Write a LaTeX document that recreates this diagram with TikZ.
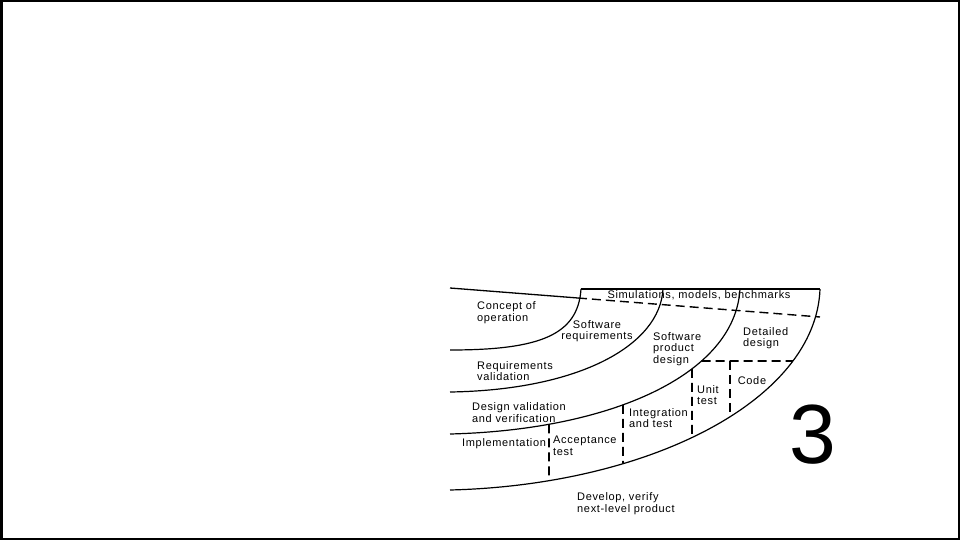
\documentclass[tikz,border=0pt]{standalone}
\usepackage{fontspec}
\setmainfont{Liberation Sans}
\newfontfamily\spiralfont[LetterSpace=6]{Liberation Sans}
\usetikzlibrary{intersections}
\tikzset{
  arcline/.style={line width=1.2pt},
  phasedash/.style={line width=1.6pt, dash pattern=on 9pt off 5pt},
  phase/.style={font=\spiralfont\fontsize{11}{11.5}\selectfont, align=left,
                inner sep=0pt},
}

\begin{document}
\begin{tikzpicture}[x=1pt, y=-1pt]
\useasboundingbox (0,0) rectangle (960,540);
\draw[line width=2.5pt] (1.25,1.25) rectangle (958.75,538.75);
% quadrant arcs, innermost first
\coordinate (topA) at (581,289);
\coordinate (topD) at (820,289);
\draw[arcline, name path=arcA] (topA) .. controls (578,335) and (540,350) .. (450,350);
\draw[arcline, name path=arcB] (663,289) .. controls (660,345) and (580,390) .. (450,392);
\draw[arcline, name path=arcC] (740,289) .. controls (735,375) and (610,430) .. (450,434);
\draw[arcline, name path=arcD] (topD) .. controls (816,400) and (650,485) .. (450,490);
\draw[arcline] (topA) -- (topD);
% sloping line under the simulations band
\coordinate (slopeL) at (450,288);
\coordinate (slopeM) at (578,298);
\coordinate (slopeR) at (820,317);
\draw[line width=1.3pt] (slopeL) -- (slopeM);
\draw[phasedash, line width=1.4pt] (slopeM) -- (slopeR);
% dashed cells between the two outer arcs
\path[name path=cutH] (690,361) -- (830,361);
\path[name intersections={of=arcC and cutH, by=hL}];
\path[name intersections={of=arcD and cutH, by=hR}];
\draw[phasedash] (hL) -- (hR);
\foreach \cx/\nm in {549/vA, 623/vB, 692/vC} {
  \path[name path=cutV] (\cx,280) -- (\cx,520);
  \path[name intersections={of=arcC and cutV, by=\nm t}];
  \path[name intersections={of=arcD and cutV, by=\nm b}];
  \draw[phasedash] (\nm t) -- (\nm b);
}
\path[name path=cutE] (730,280) -- (730,520);
\path[name intersections={of=arcD and cutE, by=eB}];
\draw[phasedash] (eB |- hR) -- (eB);
% labels
\node[phase] (sim) at (699,295) {Simulations, models, benchmarks};
\node[phase, anchor=west] (concept) at (477,312.5) {Concept of\\operation};
\node[phase, align=center] (swreq) at (597,331) {Software\\requirements};
\node[phase, anchor=west] (reqval) at (477,371) {Requirements\\validation};
\node[phase, anchor=west] (swprod) at (653,349) {Software\\product\\design};
\node[phase, anchor=west] (detail) at (743,338) {Detailed\\design};
\node[phase] (code) at (752,381) {Code};
\node[phase, anchor=west] (unit) at (697,395) {Unit\\test};
\node[phase, anchor=west] (integ) at (629,418) {Integration\\and test};
\node[phase, anchor=west] (desval) at (472,412.5) {Design validation\\and verification};
\node[phase, anchor=west] (impl) at (462,444) {Implementation};
\node[phase, anchor=west] (accept) at (553,446) {Acceptance\\test};
\node[phase, anchor=west] (develop) at (577,503.5) {Develop, verify\\next-level product};
\node[font=\fontsize{84}{84}\selectfont, inner sep=0pt] (three) at (813,435) {3};
\end{tikzpicture}
\end{document}
